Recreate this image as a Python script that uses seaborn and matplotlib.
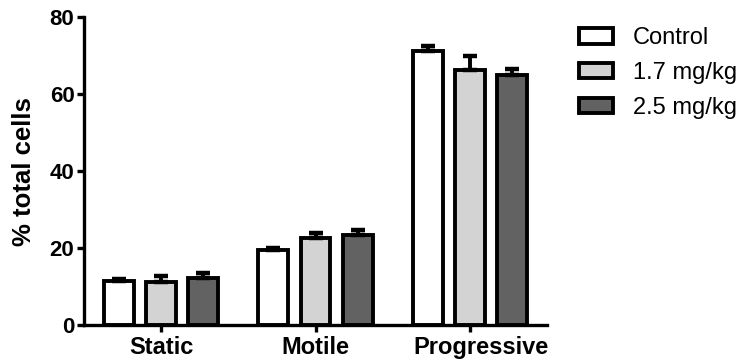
import matplotlib
matplotlib.use("Agg")
import matplotlib.pyplot as plt
import matplotlib.transforms as mtransforms
import seaborn as sns
import pandas as pd

categories = ["Static", "Motile", "Progressive"]
groups = ["Control", "1.7 mg/kg", "2.5 mg/kg"]
control_mean = [11.4, 19.5, 71.2]
control_sem = [0.5, 0.6, 1.3]
low_mean = [11.1, 22.6, 66.2]
low_sem = [1.6, 1.2, 3.8]
high_mean = [12.1, 23.4, 64.9]
high_sem = [1.3, 1.3, 1.6]
colors = ["#ffffff", "#d3d3d3", "#626262"]
y_ticks = [0, 20, 40, 60, 80]

means = [control_mean, low_mean, high_mean]
sems = [control_sem, low_sem, high_sem]
rows = []
for g, m_list, s_list in zip(groups, means, sems):
    for c, m, s in zip(categories, m_list, s_list):
        rows.append({"category": c, "group": g, "value": m, "sem": s})
df = pd.DataFrame(rows)

sns.set_style("ticks")
plt.rcParams["font.family"] = ["Liberation Sans", "DejaVu Sans"]
plt.rcParams["text.color"] = "black"
plt.rcParams["axes.labelcolor"] = "black"
plt.rcParams["xtick.color"] = "black"
plt.rcParams["ytick.color"] = "black"
plt.rcParams["axes.edgecolor"] = "black"

fig = plt.figure(figsize=(7.45, 3.64), dpi=100)
ax = fig.add_axes([0.113, 0.107, 0.621, 0.846])

sns.barplot(data=df, x="category", y="value", hue="group", order=categories,
            hue_order=groups, palette=colors, edgecolor="black", linewidth=2.8,
            width=0.82, gap=0.29, errorbar=None, ax=ax)

# upward-only SEM whiskers on each bar
for container, g in zip(ax.containers, groups):
    sub = df[df["group"] == g].set_index("category").loc[categories]
    xs = [b.get_x() + b.get_width() / 2 for b in container]
    ax.errorbar(xs, sub["value"].values,
                yerr=[[0] * len(xs), sub["sem"].values],
                fmt="none", ecolor="black", elinewidth=2.8, capsize=5.2,
                capthick=3.2, zorder=3)

ax.set_ylim(0, 80)
ax.set_xlim(-0.5, 2.5)
ax.set_yticks(y_ticks)
ax.set_xlabel("")
ax.set_ylabel("% total cells", fontsize=18.5, fontweight="bold")
ax.yaxis.set_label_coords(-0.104, 0.5)
for s in ["top", "right"]:
    ax.spines[s].set_visible(False)
for s in ["left", "bottom"]:
    ax.spines[s].set_linewidth(2.4)
ax.tick_params(axis="both", width=2.4, length=5, direction="out")
ax.tick_params(axis="y", pad=2)
ax.tick_params(axis="x", pad=3)
for lab in ax.get_yticklabels():
    lab.set_fontsize(16)
    lab.set_fontweight("bold")
for lab in ax.get_xticklabels():
    lab.set_fontsize(17)
    lab.set_fontweight("bold")
    if lab.get_text() == "Progressive":
        # nudge the last category name slightly to the right
        lab.set_transform(lab.get_transform() +
                          mtransforms.ScaledTranslation(0.11, 0, fig.dpi_scale_trans))

handles, labels = ax.get_legend_handles_labels()
ax.legend(handles, labels, loc="upper left", bbox_to_anchor=(0.764, 0.951),
          bbox_transform=fig.transFigure, frameon=False, fontsize=17,
          handlelength=1.45, handleheight=0.63, handletextpad=0.84,
          labelspacing=0.54, borderaxespad=0)

fig.savefig("out.png", dpi=100)
